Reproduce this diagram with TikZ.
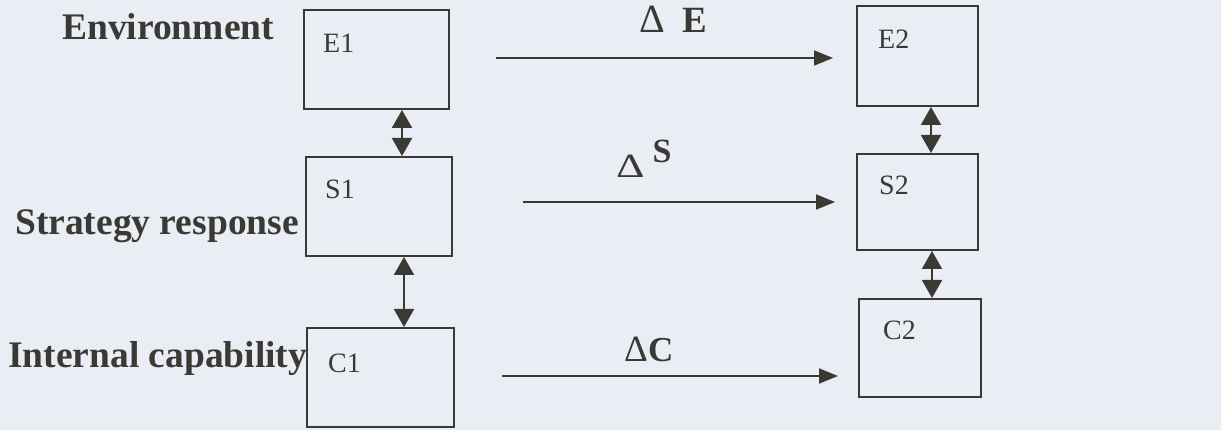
\documentclass[tikz,border=0pt]{standalone}
\usepackage{fontspec}
\setmainfont{Liberation Serif}
\usetikzlibrary{arrows.meta}
\definecolor{bg}{RGB}{234,237,244}
\definecolor{ink}{RGB}{58,58,52}
\begin{document}
\begin{tikzpicture}[x=1pt,y=-1pt,
  box/.style={draw=ink,line width=2pt,inner sep=0pt},
  boxlbl/.style={anchor=base west,inner sep=0pt,text=ink,font=\fontsize{28}{30}\selectfont},
  rowlbl/.style={anchor=base west,inner sep=0pt,text=ink,font=\fontsize{37.5}{40}\selectfont\bfseries},
  chglbl/.style={anchor=base west,inner sep=0pt,text=ink},
  dbl/.style={draw=ink,line width=2pt,{Triangle[length=18pt,width=20pt]}-{Triangle[length=18pt,width=20pt]}},
  chg/.style={draw=ink,line width=1.8pt,-{Triangle[length=19pt,width=15pt]}}
  ]
\fill[bg] (0,0) rectangle (1221,430);
\useasboundingbox (0,0) rectangle (1221,430);
% boxes, time 1
\node[box,minimum width=145pt,minimum height=99pt] (E1) at (376.5,59.5) {};
\node[box,minimum width=146pt,minimum height=99pt] (S1) at (379,206.5) {};
\node[box,minimum width=147pt,minimum height=99pt] (C1) at (380.5,377.5) {};
% boxes, time 2
\node[box,minimum width=121pt,minimum height=100pt] (E2) at (917.5,56) {};
\node[box,minimum width=121pt,minimum height=96pt] (S2) at (917.5,202) {};
\node[box,minimum width=122pt,minimum height=98pt] (C2) at (920,348) {};
% box labels
\node[boxlbl] (tE1) at (323,53) {E1};
\node[boxlbl] (tS1) at (325,199) {S1};
\node[boxlbl] (tC1) at (328,372) {C1};
\node[boxlbl] (tE2) at (878,49) {E2};
\node[boxlbl] (tS2) at (879,195) {S2};
\node[boxlbl] (tC2) at (883,340) {C2};
% row labels
\node[rowlbl] (lE) at (62,40) {Environment};
\node[rowlbl] (lS) at (15,235) {Strategy response};
\node[rowlbl] (lC) at (8,367) {Internal capability};
% vertical links
\coordinate (xa) at (402,0);
\coordinate (xb) at (404,0);
\coordinate (xc) at (931,0);
\coordinate (xd) at (932,0);
\draw[dbl] (xa |- E1.south) -- (xa |- S1.north);
\draw[dbl] (xb |- S1.south) -- (xb |- C1.north);
\draw[dbl] (xc |- E2.south) -- (xc |- S2.north);
\draw[dbl] (xd |- S2.south) -- (xd |- C2.north);
% change arrows
\coordinate (eA) at (496,58);  \coordinate (eB) at (833,58);
\coordinate (sA) at (523,202); \coordinate (sB) at (835,202);
\coordinate (cA) at (502,376); \coordinate (cB) at (838,376);
\draw[chg] (eA) -- (eB);
\draw[chg] (sA) -- (sB);
\draw[chg] (cA) -- (cB);
% change labels
\node[chglbl] (dE) at (639,33) {\fontsize{40}{42}\selectfont Δ\hspace{18pt}{\fontsize{37}{40}\selectfont\bfseries E}};
\node[chglbl] (dS) at (616,178) {\fontsize{34}{36}\selectfont\scalebox{1.3}[1]{Δ}\hspace{8pt}\raisebox{15pt}{\bfseries S}};
\node[chglbl] (dC) at (624,362) {\fontsize{37}{38}\selectfont Δ{\fontsize{35}{36}\selectfont\bfseries C}};
\end{tikzpicture}
\end{document}
